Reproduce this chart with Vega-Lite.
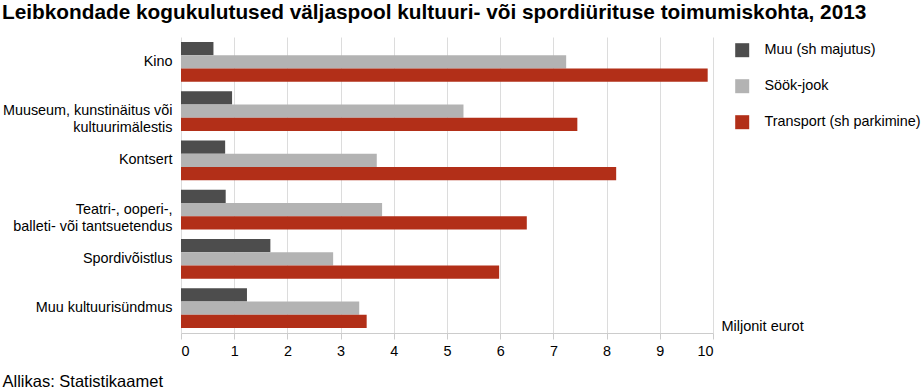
{
  "$schema": "https://vega.github.io/schema/vega-lite/v6.json",
  "autosize": "none",
  "width": 532,
  "height": 296,
  "padding": {"left": 181, "top": 37, "right": 210, "bottom": 59},
  "background": "white",
  "title": {
    "text": "Leibkondade kogukulutused väljaspool kultuuri- või spordiürituse toimumiskohta, 2013",
    "anchor": "start",
    "frame": "group",
    "dx": -179,
    "offset": 13,
    "font": "Liberation Sans",
    "fontSize": 20.8,
    "fontWeight": "bold",
    "color": "#000000"
  },
  "data": {
    "values": [
      {"syndmus": "Kino", "liik": "Muu (sh majutus)", "vaartus": 0.61},
      {"syndmus": "Kino", "liik": "Söök-jook", "vaartus": 7.24},
      {"syndmus": "Kino", "liik": "Transport (sh parkimine)", "vaartus": 9.9},
      {"syndmus": "Muuseum, kunstinäitus või|kultuurimälestis", "liik": "Muu (sh majutus)", "vaartus": 0.96},
      {"syndmus": "Muuseum, kunstinäitus või|kultuurimälestis", "liik": "Söök-jook", "vaartus": 5.31},
      {"syndmus": "Muuseum, kunstinäitus või|kultuurimälestis", "liik": "Transport (sh parkimine)", "vaartus": 7.45},
      {"syndmus": "Kontsert", "liik": "Muu (sh majutus)", "vaartus": 0.83},
      {"syndmus": "Kontsert", "liik": "Söök-jook", "vaartus": 3.68},
      {"syndmus": "Kontsert", "liik": "Transport (sh parkimine)", "vaartus": 8.18},
      {"syndmus": "Teatri-, ooperi-,|balleti- või tantsuetendus", "liik": "Muu (sh majutus)", "vaartus": 0.84},
      {"syndmus": "Teatri-, ooperi-,|balleti- või tantsuetendus", "liik": "Söök-jook", "vaartus": 3.78},
      {"syndmus": "Teatri-, ooperi-,|balleti- või tantsuetendus", "liik": "Transport (sh parkimine)", "vaartus": 6.5},
      {"syndmus": "Spordivõistlus", "liik": "Muu (sh majutus)", "vaartus": 1.68},
      {"syndmus": "Spordivõistlus", "liik": "Söök-jook", "vaartus": 2.86},
      {"syndmus": "Spordivõistlus", "liik": "Transport (sh parkimine)", "vaartus": 5.98},
      {"syndmus": "Muu kultuurisündmus", "liik": "Muu (sh majutus)", "vaartus": 1.24},
      {"syndmus": "Muu kultuurisündmus", "liik": "Söök-jook", "vaartus": 3.35},
      {"syndmus": "Muu kultuurisündmus", "liik": "Transport (sh parkimine)", "vaartus": 3.49}
    ]
  },
  "mark": {"type": "bar"},
  "encoding": {
    "y": {
      "field": "syndmus",
      "type": "nominal",
      "sort": null,
      "scale": {"paddingInner": 0.19, "paddingOuter": 0.1},
      "axis": {
        "title": "Allikas: Statistikaamet",
        "titleAngle": 0,
        "titleX": -179,
        "titleY": 344,
        "titleAlign": "left",
        "titleBaseline": "middle",
        "titleFont": "Liberation Sans",
        "titleFontSize": 16.5,
        "titleFontWeight": "normal",
        "titleColor": "#000000",
        "labelExpr": "split(datum.label, '|')",
        "labelFont": "Liberation Sans",
        "labelFontSize": 14.4,
        "labelColor": "#000000",
        "labelLineHeight": 17,
        "labelPadding": 9,
        "labelLimit": 200,
        "domain": false,
        "ticks": false,
        "grid": false
      }
    },
    "yOffset": {
      "field": "liik",
      "type": "nominal",
      "sort": ["Muu (sh majutus)", "Söök-jook", "Transport (sh parkimine)"],
      "scale": {"paddingInner": 0, "paddingOuter": 0}
    },
    "x": {
      "field": "vaartus",
      "type": "quantitative",
      "scale": {"domain": [0, 10], "nice": false},
      "axis": {
        "title": "Miljonit eurot",
        "titleX": 540,
        "titleY": -6.5,
        "titleAlign": "left",
        "titleBaseline": "middle",
        "titleAnchor": null,
        "titleFont": "Liberation Sans",
        "titleFontSize": 14.5,
        "titleFontWeight": "normal",
        "titleColor": "#000000",
        "values": [0, 1, 2, 3, 4, 5, 6, 7, 8, 9, 10],
        "labelFont": "Liberation Sans",
        "labelFontSize": 14.4,
        "labelColor": "#000000",
        "labelPadding": 5,
        "tickSize": 6,
        "tickColor": "#cccccc",
        "domainColor": "#cccccc",
        "gridColor": "#dcdcdc",
        "grid": true
      }
    },
    "color": {
      "field": "liik",
      "type": "nominal",
      "sort": ["Muu (sh majutus)", "Söök-jook", "Transport (sh parkimine)"],
      "scale": {
        "domain": ["Muu (sh majutus)", "Söök-jook", "Transport (sh parkimine)"],
        "range": ["#4d4d4d", "#b3b3b3", "#b22f18"]
      },
      "legend": {
        "title": null,
        "orient": "none",
        "legendX": 554,
        "legendY": 6,
        "symbolType": "square",
        "symbolSize": 196,
        "symbolStrokeWidth": 0,
        "labelFont": "Liberation Sans",
        "labelFontSize": 14.4,
        "labelColor": "#000000",
        "labelOffset": 15,
        "rowPadding": 20,
        "labelLimit": 250
      }
    }
  },
  "config": {
    "view": {"stroke": null}
  }
}
